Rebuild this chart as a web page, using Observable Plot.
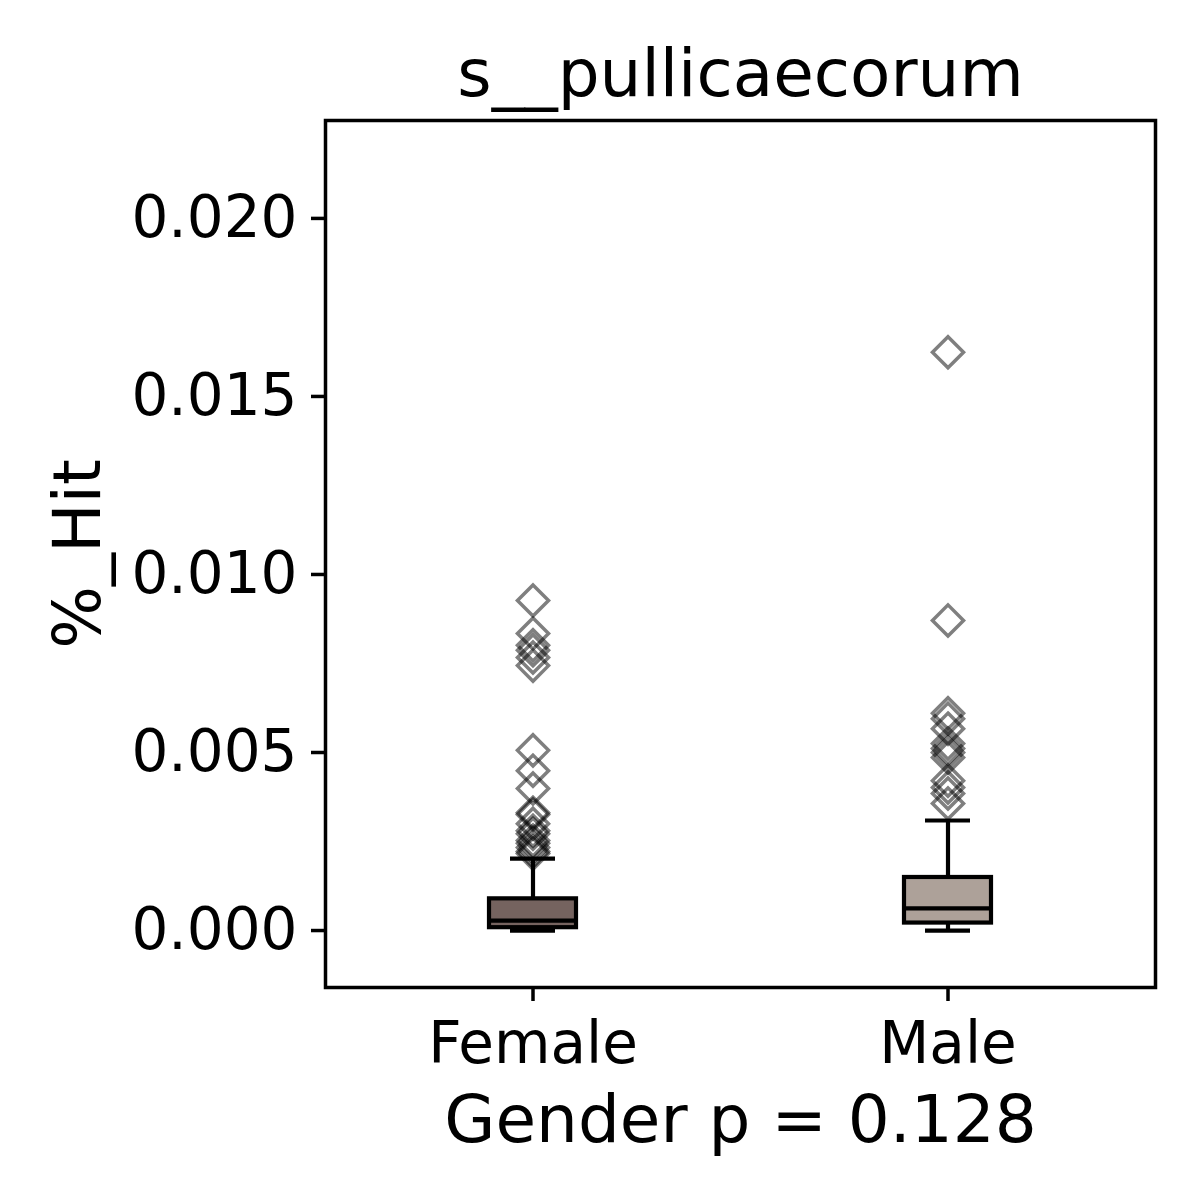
<!DOCTYPE html>
<html>
<head>
<meta charset="utf-8">
<script src="https://cdn.jsdelivr.net/npm/d3@7"></script>
<script src="https://cdn.jsdelivr.net/npm/@observablehq/plot@0.6"></script>
<style>
  html, body { margin: 0; padding: 0; background: #fff; }
</style>
</head>
<body>
<div id="chart"></div>
<script>
const groups = ["Female", "Male"];
const boxColors = ["#75635f", "#ada199"];
const q1s = [0.00008, 0.00021];
const medians = [0.00028, 0.00062];
const q3s = [0.00089, 0.00149];
const whiskerLows = [0.0, 0.0];
const whiskerHighs = [0.00202, 0.00309];
const femaleOutliers = [0.00927, 0.00834, 0.00801, 0.00787, 0.00767, 0.00744,
  0.00506, 0.00449, 0.00399, 0.00331, 0.00326, 0.0030, 0.0028, 0.00272,
  0.00253, 0.00245, 0.00233, 0.00222, 0.00216];
const maleOutliers = [0.01624, 0.00871, 0.0061, 0.00595, 0.00567, 0.00525,
  0.00511, 0.005, 0.00486, 0.00421, 0.00402, 0.00385, 0.00357];
const yTicks = [0, 0.005, 0.010, 0.015, 0.020];
const titleText = "s__pullicaecorum";
const xLabel = "Gender p = 0.128";
const yLabel = "%_Hit";

const stats = groups.map((g, i) => ({
  g, q1: q1s[i], median: medians[i], q3: q3s[i], lo: whiskerLows[i], hi: whiskerHighs[i]
}));
const outliers = [
  ...femaleOutliers.map(v => ({g: "Female", v})),
  ...maleOutliers.map(v => ({g: "Male", v}))
];

const lw = 4.2;
const chart = Plot.plot({
  width: 1200,
  height: 1200,
  marginLeft: 325,
  marginRight: 45,
  marginTop: 120,
  marginBottom: 213,
  style: {fontFamily: "DejaVu Sans", background: "white", color: "black"},
  x: {type: "band", domain: groups, paddingInner: 0.79, paddingOuter: 0.395},
  y: {domain: [-0.0016, 0.02275]},
  color: {domain: groups, range: boxColors},
  marks: [
    Plot.ruleX(stats, {x: "g", y1: "q3", y2: "hi", stroke: "black", strokeWidth: lw}),
    Plot.ruleX(stats, {x: "g", y1: "lo", y2: "q1", stroke: "black", strokeWidth: lw}),
    Plot.tickY(stats, {x: "g", y: "hi", insetLeft: 21, insetRight: 21, stroke: "black", strokeWidth: lw}),
    Plot.tickY(stats, {x: "g", y: "lo", insetLeft: 21, insetRight: 21, stroke: "black", strokeWidth: lw}),
    Plot.barY(stats, {x: "g", y1: "q1", y2: "q3", fill: "g", stroke: "black", strokeWidth: lw}),
    Plot.tickY(stats, {x: "g", y: "median", stroke: "black", strokeWidth: lw}),
    Plot.dot(outliers, {x: "g", y: "v", symbol: "diamond2", r: 14, fill: "none",
      stroke: "black", strokeOpacity: 0.5, strokeWidth: 3.5}),
    Plot.frame({stroke: "black", strokeWidth: 3.5}),
    Plot.axisY({ticks: yTicks, tickFormat: d3.format(".3f"), tickSize: 14, tickPadding: 14,
      fontSize: 58, strokeWidth: 3.5, label: null}),
    Plot.axisX({tickSize: 14, tickPadding: 20, fontSize: 58, strokeWidth: 3.5, label: null}),
    Plot.text([titleText], {text: d => d, frameAnchor: "top", dy: -25, lineAnchor: "bottom", fontSize: 66}),
    Plot.text([xLabel], {text: d => d, frameAnchor: "bottom", dy: 133, lineAnchor: "middle", fontSize: 66}),
    Plot.text([yLabel], {text: d => d, frameAnchor: "left", dx: -247, rotate: -90, textAnchor: "middle", lineAnchor: "middle", fontSize: 66})
  ]
});
document.getElementById("chart").appendChild(chart);
</script>
</body>
</html>
